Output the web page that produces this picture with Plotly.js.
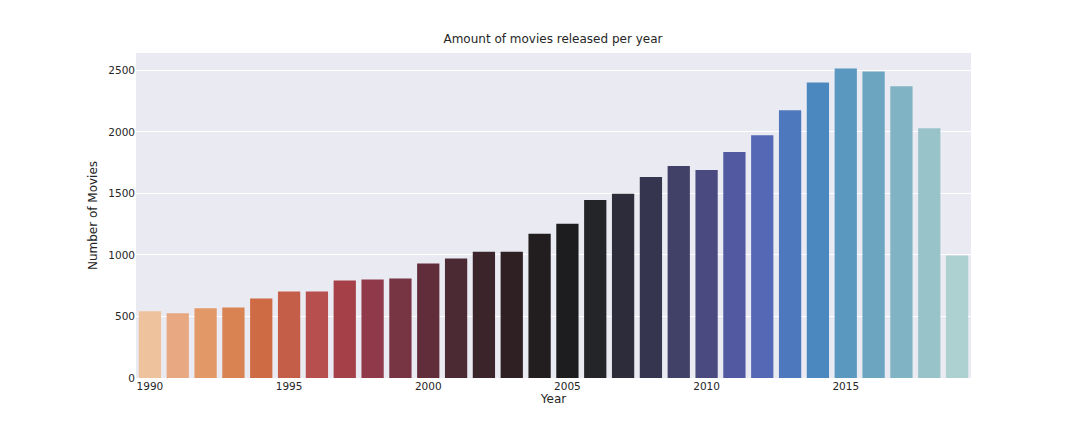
<!DOCTYPE html>
<html>
<head>
<script src="https://cdn.plot.ly/plotly-3.0.1.min.js"></script>
<style>body{margin:0}</style>
</head>
<body>
<div id="chart" style="width:1080px;height:432px"></div>
<script>
const years = ['1990','1991','1992','1993','1994','1995','1996','1997','1998','1999',
  '2000','2001','2002','2003','2004','2005','2006','2007','2008','2009',
  '2010','2011','2012','2013','2014','2015','2016','2017','2018','2019'];
const movieCounts = [542, 526, 566, 574, 647, 704, 704, 793, 801, 809,
  930, 971, 1027, 1027, 1173, 1254, 1448, 1497, 1634, 1723,
  1691, 1837, 1974, 2176, 2403, 2516, 2492, 2371, 2031, 995];
const barColors = ['#eec29d','#e8a982','#e39868','#d98352','#ce6a44','#c55e48','#b84f4f','#a54049','#90394a','#773543',
  '#622d3a','#4b2a33','#3c242b','#2e2023','#221e20','#1d1d1f','#242529','#2c2c3a','#36354f','#414066',
  '#4a4a80','#5359a0','#5468b5','#4e78be','#4c88c0','#5a98c0','#6ba5c0','#80b3c3','#98c3c9','#add1d1'];

Plotly.newPlot('chart', [{
  type: 'bar',
  x: years,
  y: movieCounts,
  marker: { color: barColors },
  hoverinfo: 'x+y'
}], {
  width: 1080, height: 432,
  margin: { l: 136, r: 109, t: 53, b: 54 },
  paper_bgcolor: '#ffffff',
  plot_bgcolor: '#eaeaf2',
  bargap: 0.2,
  font: { family: 'DejaVu Sans', size: 11, color: '#262626' },
  title: { text: 'Amount of movies released per year', font: { size: 12 }, x: 0.512, y: 0.92 },
  xaxis: {
    title: { text: 'Year', font: { size: 12 }, standoff: 4 },
    showgrid: false, ticks: '', tickfont: { size: 10.5 }, fixedrange: true
  },
  yaxis: {
    title: { text: 'Number of Movies', font: { size: 12 }, standoff: 8 },
    range: [0, 2642], tickvals: [0, 500, 1000, 1500, 2000, 2500],
    gridcolor: '#ffffff', zeroline: false, ticks: '', tickfont: { size: 10.5 }, fixedrange: true
  },
  showlegend: false
}, { displayModeBar: false });
</script>
</body>
</html>
